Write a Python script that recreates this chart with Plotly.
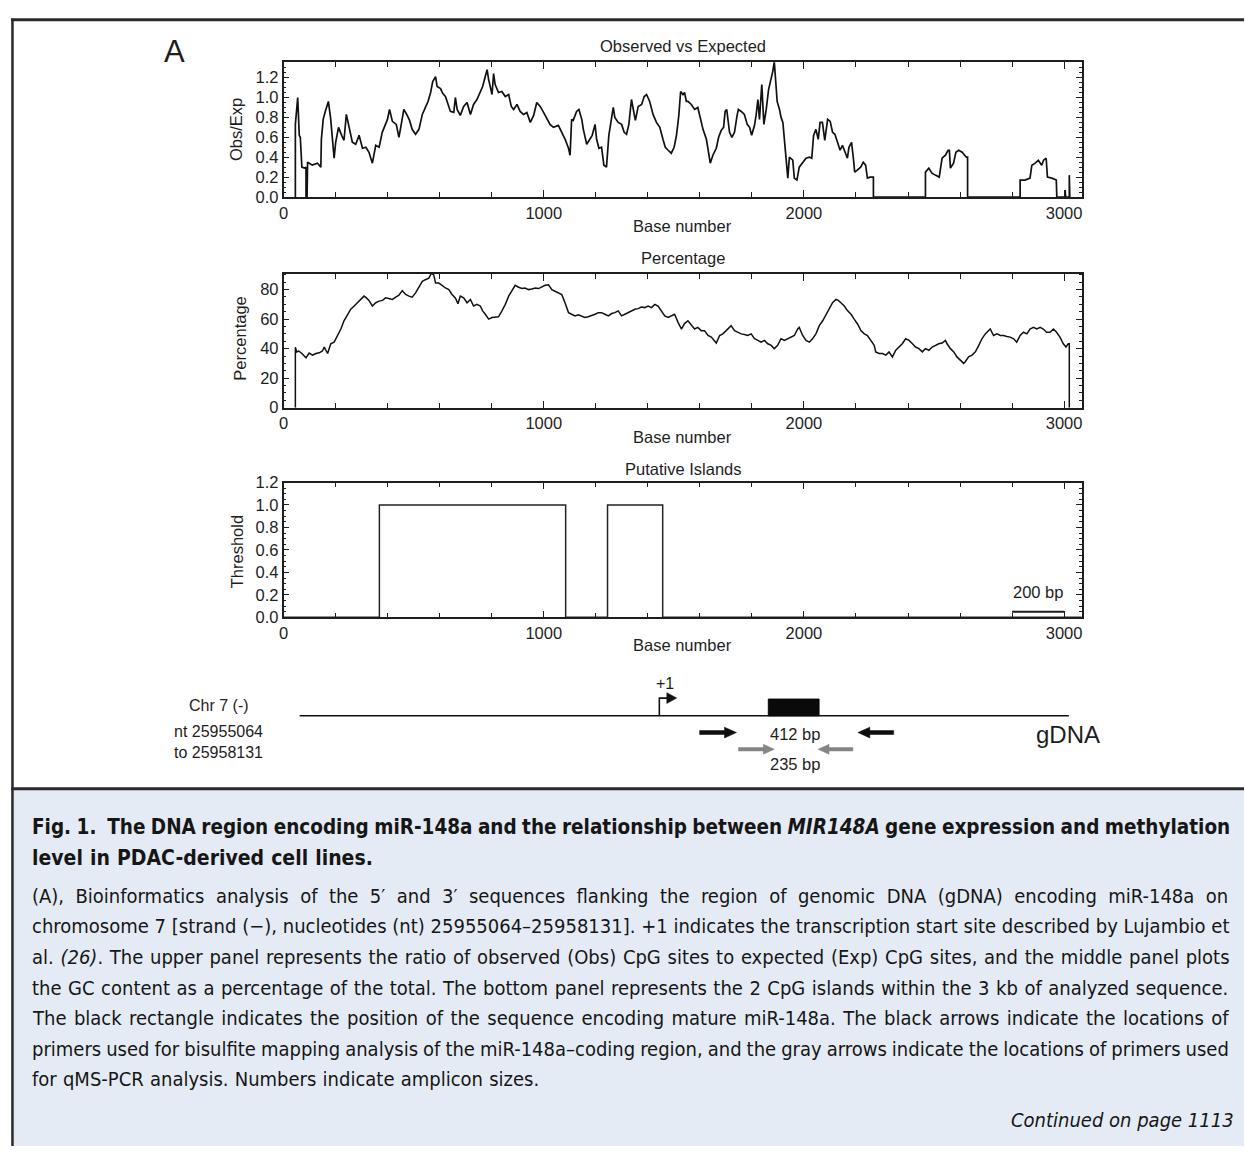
import plotly.graph_objects as go

W, H = 1245, 1155
FONT = "Liberation Sans, Arial, Helvetica, sans-serif"
CAP_FONT = "DejaVu Sans Condensed, Liberation Sans Narrow, Arial Narrow, Liberation Sans, sans-serif"
INK = "#1e1e1e"

# ---------------- data ----------------
# Observed / expected CpG ratio along the analysed sequence (base, ratio)
obs_base = [45, 45, 54, 60, 64, 70, 80, 86, 86, 90, 92, 110, 130, 143, 145, 152, 160, 172, 181, 187,
            194, 200, 211, 223, 232, 241, 252, 264, 277, 290, 303, 316, 328, 341, 354, 367, 379, 399,
            407, 418, 433, 443, 450, 462, 475, 484, 494, 507, 520, 533, 545, 555, 565, 573, 584, 590,
            603, 612, 622, 632, 641, 654, 660, 667, 679, 692, 705, 718, 730, 743, 756, 765, 775, 782,
            788, 795, 801, 807, 813, 826, 839, 852, 865, 875, 884, 897, 909, 922, 935, 948, 961, 973,
            986, 999, 1012, 1024, 1037, 1056, 1069, 1082, 1095, 1101, 1107, 1113, 1126, 1135, 1146,
            1152, 1165, 1178, 1186, 1197, 1203, 1212, 1222, 1231, 1241, 1250, 1260, 1267, 1273, 1286,
            1299, 1309, 1318, 1327, 1337, 1344, 1352, 1363, 1376, 1386, 1395, 1407, 1420, 1433, 1446,
            1458, 1467, 1478, 1490, 1501, 1510, 1519, 1526, 1535, 1541, 1548, 1554, 1567, 1580, 1592,
            1603, 1612, 1625, 1631, 1640, 1650, 1663, 1672, 1682, 1691, 1697, 1703, 1714, 1723, 1733,
            1743, 1748, 1759, 1771, 1782, 1791, 1799, 1810, 1816, 1823, 1829, 1838, 1846, 1855, 1864,
            1871, 1880, 1886, 1890, 1897, 1906, 1912, 1919, 1925, 1931, 1938, 1944, 1957, 1963, 1973,
            1982, 1995, 2008, 2021, 2030, 2037, 2046, 2055, 2062, 2071, 2080, 2091, 2101, 2110, 2119,
            2129, 2139, 2148, 2158, 2167, 2173, 2183, 2190, 2195, 2205, 2218, 2228, 2237, 2244, 2254,
            2267, 2267, 2467, 2467, 2480, 2492, 2505, 2520, 2531, 2544, 2554, 2559, 2563, 2575, 2584,
            2595, 2608, 2624, 2629, 2629, 2831, 2831, 2850, 2869, 2876, 2889, 2901, 2914, 2921, 2931,
            2936, 2953, 2970, 2972, 3004, 3004, 3006, 3020, 3020, 3022]
obs_ratio = [0.0, 0.73, 1.0, 0.62, 0.60, 0.30, 0.29, 0.30, 0.0, 0.0, 0.35, 0.32, 0.34, 0.30, 0.58, 0.78,
             0.86, 0.96, 0.78, 0.62, 0.39, 0.55, 0.70, 0.62, 0.57, 0.83, 0.68, 0.55, 0.53, 0.62, 0.49,
             0.50, 0.45, 0.34, 0.52, 0.50, 0.65, 0.78, 0.88, 0.76, 0.73, 0.60, 0.70, 0.88, 0.82, 0.77,
             0.68, 0.63, 0.68, 0.83, 0.90, 0.96, 1.05, 1.16, 1.21, 1.11, 1.09, 1.04, 1.01, 0.93, 0.86,
             0.85, 1.00, 0.88, 0.82, 0.91, 0.95, 0.83, 0.93, 0.98, 1.05, 1.11, 1.21, 1.28, 1.18, 1.11,
             1.03, 1.24, 1.13, 1.05, 1.06, 1.01, 1.03, 0.91, 0.88, 0.93, 0.86, 0.83, 0.85, 0.75, 0.82,
             0.95, 0.91, 0.85, 0.78, 0.73, 0.70, 0.72, 0.65, 0.58, 0.49, 0.42, 0.78, 0.77, 0.86, 0.88,
             0.78, 0.68, 0.53, 0.58, 0.62, 0.73, 0.58, 0.49, 0.50, 0.32, 0.30, 0.62, 0.80, 0.90, 0.80,
             0.75, 0.73, 0.65, 0.63, 0.73, 0.98, 0.88, 0.77, 0.91, 0.93, 1.01, 1.03, 0.96, 0.83, 0.75,
             0.70, 0.58, 0.50, 0.47, 0.44, 0.50, 0.62, 0.82, 1.06, 1.03, 1.05, 0.96, 0.96, 0.93, 0.88,
             0.90, 0.78, 0.68, 0.58, 0.47, 0.34, 0.42, 0.49, 0.60, 0.67, 0.70, 0.86, 0.88, 0.65, 0.60,
             0.65, 0.82, 0.88, 0.86, 0.83, 0.73, 0.70, 0.62, 0.72, 0.82, 0.98, 0.78, 1.13, 0.73, 0.88,
             1.08, 1.15, 1.26, 1.36, 1.24, 0.96, 0.88, 0.80, 0.75, 0.58, 0.45, 0.19, 0.40, 0.37, 0.19,
             0.17, 0.30, 0.35, 0.39, 0.40, 0.39, 0.62, 0.68, 0.58, 0.75, 0.75, 0.57, 0.78, 0.76, 0.65,
             0.63, 0.55, 0.47, 0.52, 0.45, 0.39, 0.50, 0.55, 0.39, 0.25, 0.27, 0.30, 0.35, 0.32, 0.19,
             0.20, 0.20, 0.0, 0.0, 0.25, 0.29, 0.24, 0.22, 0.20, 0.39, 0.42, 0.47, 0.47, 0.29, 0.34,
             0.45, 0.47, 0.45, 0.40, 0.40, 0.0, 0.0, 0.17, 0.17, 0.19, 0.32, 0.34, 0.37, 0.32, 0.37,
             0.39, 0.20, 0.19, 0.17, 0.0, 0.0, 0.07, 0.0, 0.0, 0.22, 0.0]

# GC content (%) along the analysed sequence (base, percent)
gc_base = [45, 45, 50, 58, 70, 86, 98, 111, 124, 137, 149, 156, 169, 181, 194, 207, 220, 232, 245, 258,
           271, 284, 296, 309, 318, 328, 341, 354, 367, 380, 392, 405, 418, 431, 443, 456, 469, 482,
           494, 507, 520, 533, 545, 558, 568, 577, 584, 596, 609, 622, 635, 647, 660, 670, 679, 692,
           705, 718, 730, 743, 756, 765, 775, 788, 801, 814, 826, 839, 852, 865, 877, 890, 903, 916,
           928, 941, 954, 967, 980, 992, 1005, 1018, 1031, 1043, 1056, 1069, 1079, 1088, 1095, 1107,
           1120, 1133, 1146, 1158, 1171, 1184, 1197, 1209, 1222, 1235, 1248, 1261, 1273, 1286, 1299,
           1312, 1324, 1337, 1350, 1363, 1375, 1388, 1401, 1414, 1427, 1439, 1452, 1465, 1478, 1490,
           1503, 1516, 1529, 1541, 1554, 1567, 1580, 1592, 1605, 1618, 1631, 1644, 1656, 1663, 1676,
           1688, 1701, 1714, 1720, 1733, 1746, 1759, 1771, 1784, 1797, 1810, 1823, 1835, 1848, 1861,
           1874, 1886, 1899, 1912, 1925, 1937, 1950, 1963, 1976, 1982, 1995, 2008, 2021, 2033, 2046,
           2059, 2072, 2085, 2098, 2110, 2123, 2132, 2142, 2155, 2168, 2181, 2193, 2206, 2219, 2232,
           2244, 2257, 2270, 2276, 2289, 2302, 2315, 2327, 2340, 2353, 2366, 2378, 2391, 2404, 2417,
           2429, 2442, 2455, 2467, 2480, 2493, 2506, 2518, 2531, 2544, 2550, 2563, 2576, 2588, 2601,
           2614, 2620, 2633, 2646, 2659, 2672, 2684, 2697, 2710, 2716, 2729, 2742, 2755, 2767, 2780,
           2793, 2806, 2818, 2831, 2844, 2857, 2869, 2882, 2895, 2908, 2920, 2933, 2946, 2959, 2971,
           2984, 2997, 3007, 3016, 3020, 3020]
gc_pct = [0, 41, 37.8, 38.4, 36.7, 33.8, 37, 35.6, 36.7, 37.2, 38.4, 41, 36.7, 43.3, 44.4, 48.9, 53.3,
          58.9, 63.3, 66.7, 68.9, 71.1, 73.3, 75.6, 74.4, 72.7, 68.9, 71.1, 72.2, 72.7, 74.4, 73.8, 73.3,
          74.9, 76.2, 79.3, 76.7, 75.6, 74.9, 77.8, 82.2, 85.6, 86.7, 87.8, 91.1, 90, 84.4, 84.4, 82.9,
          81.1, 80, 76.7, 74.4, 70.4, 75.6, 74.4, 71.1, 73.3, 68.9, 70, 68.9, 65.6, 63.3, 60, 61.1, 61.6,
          61.6, 65.6, 70, 75.6, 79.3, 82.9, 81.6, 80.7, 81.1, 80, 80.4, 81.1, 80.7, 81.6, 82.9, 83.3, 80,
          78.9, 77.8, 76.7, 72.2, 67.8, 64.4, 63.3, 62.2, 62.9, 62.2, 61.1, 61.6, 62.2, 63.3, 64.4, 64.4,
          63.3, 62.2, 63.8, 64.4, 65.6, 62.2, 63.3, 64.4, 65.6, 66.7, 67.1, 68.2, 67.8, 68.9, 67.8, 70,
          68.9, 65.6, 62.2, 61.1, 62.2, 63.3, 57.8, 53.3, 57, 58.9, 56, 53.3, 54.4, 52.2, 52.2, 48.9,
          47.8, 45.6, 43.8, 48.9, 50, 52.2, 54.4, 55.6, 52.2, 51.1, 50, 49.6, 48.9, 50, 46.7, 45.6, 44.4,
          45.6, 43.3, 42.2, 40, 42.2, 46.7, 45.6, 46.7, 48.2, 48.9, 53.3, 54.4, 48.9, 45.6, 44.4, 46.7,
          50, 55.6, 58.9, 63.3, 67.8, 71.1, 73.3, 72.7, 71.1, 68.9, 65.6, 63.3, 60, 56.7, 52.2, 50, 48.9,
          45.6, 42.2, 37.8, 36.7, 36.7, 35.6, 37.8, 34.4, 38.9, 41.1, 43.3, 46.7, 45.6, 43.3, 41.1, 40,
          37.8, 40, 38.9, 41.1, 42.2, 43.3, 43.8, 45.6, 43.3, 40, 37.8, 34.4, 32.2, 30, 31.1, 34.4, 35.6,
          37.8, 42.2, 46.7, 50, 52.2, 53.3, 48.9, 50, 48.9, 48.9, 48.2, 47.8, 46.7, 44.4, 48.9, 51.1, 50,
          53.3, 54.4, 53.3, 54.4, 53.3, 51.1, 51.1, 53.3, 51.1, 47.8, 43.3, 41.1, 43.3, 43.3, 0]

# Putative CpG islands (start, end base) and the threshold level they reach
island_start = [368, 1245]
island_end = [1084, 1457]
island_level = 1.0
seq_length = 3068

x_ticks = [0, 1000, 2000, 3000]

# ---------------- helpers ----------------
def px(x):
    return x / W


def py(y):
    return 1 - y / H


def path(points, close=True):
    s = "M " + " L ".join(f"{px(x):.5f},{py(y):.5f}" for x, y in points)
    return s + (" Z" if close else "")


def arrow_pts(tail, tip, y, shaft, head_len, head_h):
    d = 1 if tip > tail else -1
    neck = tip - d * head_len
    return [(tail, y - shaft / 2), (neck, y - shaft / 2), (neck, y - head_h / 2), (tip, y),
            (neck, y + head_h / 2), (neck, y + shaft / 2), (tail, y + shaft / 2)]


# islands as a step outline
isl_x, isl_y = [0], [0]
for s, e in zip(island_start, island_end):
    isl_x += [s, s, e, e]
    isl_y += [0, island_level, island_level, 0]
isl_x.append(seq_length)
isl_y.append(0)

fig = go.Figure()
fig.add_trace(go.Scatter(x=obs_base, y=obs_ratio, mode="lines", line=dict(color="#111", width=1.7),
                         xaxis="x", yaxis="y", hoverinfo="skip"))
fig.add_trace(go.Scatter(x=gc_base, y=gc_pct, mode="lines", line=dict(color="#111", width=1.5),
                         xaxis="x2", yaxis="y2", hoverinfo="skip"))
fig.add_trace(go.Scatter(x=isl_x, y=isl_y, mode="lines", line=dict(color="#222", width=1.5),
                         xaxis="x3", yaxis="y3", hoverinfo="skip"))

X0, X1 = px(280), px(1082)
panels = [  # (top px, bottom px, y range, major step, minor step, tick format)
    (54, 191, [0, 1.355], 0.2, 0.05, ".1f"),
    (269, 405, [0, 90.7], 20, 5, "d"),
    (481, 618, [0, 1.2], 0.2, 0.05, ".1f"),
]

layout = dict(width=W, height=H, margin=dict(l=0, r=0, t=0, b=0), showlegend=False,
              paper_bgcolor="white", plot_bgcolor="white", font=dict(family=FONT, color=INK))
for i, (top, bot, yr, step, mstep, fmt) in enumerate(panels, start=1):
    sfx = "" if i == 1 else str(i)
    layout["xaxis" + sfx] = dict(
        domain=[X0, X1], range=[0, seq_length], anchor="y" + sfx, tickmode="array", tickvals=x_ticks,
        ticks="inside", ticklen=7, tickwidth=1.3, tickcolor=INK, showline=True, linecolor=INK,
        linewidth=1.6, mirror="ticks", showgrid=False, zeroline=False,
        tickfont=dict(size=16.5, color=INK),
        minor=dict(tick0=0, dtick=200, ticks="inside", ticklen=5, tickwidth=1.1, tickcolor=INK, showgrid=False))
    layout["yaxis" + sfx] = dict(
        domain=[py(bot), py(top)], range=yr, anchor="x" + sfx, tick0=0, dtick=step, tickformat=fmt,
        ticks="inside", ticklen=6, tickwidth=1.3, tickcolor=INK, showline=True, linecolor=INK,
        linewidth=1.6, mirror="ticks", showgrid=False, zeroline=False,
        tickfont=dict(size=16.5, color=INK),
        minor=dict(tick0=0, dtick=mstep, ticks="inside", ticklen=3, tickwidth=1, tickcolor=INK, showgrid=False))

annotations = []


def label(text, x, y, size=16.5, angle=0, anchor="center", family=FONT, color=INK):
    annotations.append(dict(text=text, x=px(x), y=py(y), xref="paper", yref="paper", showarrow=False,
                            xanchor=anchor, yanchor="middle", textangle=angle,
                            font=dict(size=size, family=family, color=color)))


label("A", 170, 43, size=31)
for title, ty, ytitle, yx, yy, by in [("Observed vs Expected", 38, "Obs/Exp", 232, 122, 220),
                                      ("Percentage", 253, "Percentage", 236, 335, 435),
                                      ("Putative Islands", 467, "Threshold", 234, 551, 646)]:
    label(title, 681, ty)
    label(ytitle, yx, yy, angle=-90)
    label("Base number", 681, by)

# 200 bp scale bar in the islands panel
annotations.append(dict(text="200 bp", x=2900, y=0.23, xref="x3", yref="y3", showarrow=False,
                        font=dict(size=16.5, family=FONT, color=INK)))

# gene diagram labels
label("Chr 7 (-)", 215, 708, size=16)
label("nt 25955064", 215, 734, size=16)
label("to 25958131", 215, 755, size=16)
label("+1", 663, 685, size=16)
label("412 bp", 794, 736, size=16.5)
label("235 bp", 794, 767, size=16.5)
label("gDNA", 1068, 737, size=24)


def spaced(text, ws):
    return f'<span style="word-spacing:{ws}px">{text}</span>'


# caption: (text, centre y, font size, extra word spacing)
cap = [
    ("<b>Fig. 1.\u00a0 The DNA region encoding miR-148a and the relationship between <i>MIR148A</i> gene expression and methylation</b>", 831, 20.5, -1.0),
    ("<b>level in PDAC-derived cell lines.</b>", 862, 21, 0.5),
    ("(A), Bioinformatics analysis of the 5\u2032 and 3\u2032 sequences flanking the region of genomic DNA (gDNA) encoding miR-148a on", 901, 20, 5.7),
    ("chromosome 7 [strand (\u2212), nucleotides (nt) 25955064\u201325958131]. +1 indicates the transcription start site described by Lujambio et", 932, 20, 0.05),
    ("al. <i>(26)</i>. The upper panel represents the ratio of observed (Obs) CpG sites to expected (Exp) CpG sites, and the middle panel plots", 963, 20, 1.0),
    ("the GC content as a percentage of the total. The bottom panel represents the 2 CpG islands within the 3 kb of analyzed sequence.", 994, 20, 0.8),
    ("The black rectangle indicates the position of the sequence encoding mature miR-148a. The black arrows indicate the locations of", 1025, 20, 1.7),
    ("primers used for bisulfite mapping analysis of the miR-148a\u2013coding region, and the gray arrows indicate the locations of primers used", 1056, 20, -0.7),
    ("for qMS-PCR analysis. Numbers indicate amplicon sizes.", 1087, 20, 0.5),
]
for text, y, size, ws in cap:
    label(spaced(text, ws), 25, y, size=size, anchor="left", family=CAP_FONT, color="#161616")
label("<i>Continued on page 1113</i>", 1237, 1129, size=20, anchor="right", family=CAP_FONT, color="#161616")

shapes = []
# caption panel and frame
shapes.append(dict(type="rect", xref="paper", yref="paper", x0=px(7), x1=1, y0=0, y1=py(792),
                   fillcolor="#e4ebf5", line=dict(width=0), layer="below"))
shapes.append(dict(type="line", xref="paper", yref="paper", x0=px(6), x1=1, y0=py(11), y1=py(11),
                   line=dict(color="#2a2a2a", width=3)))
shapes.append(dict(type="line", xref="paper", yref="paper", x0=px(6), x1=1, y0=py(792), y1=py(792),
                   line=dict(color="#2a2a2a", width=3)))
shapes.append(dict(type="line", xref="paper", yref="paper", x0=px(7.5), x1=px(7.5), y0=0, y1=py(10),
                   line=dict(color="#2a2a2a", width=2.5)))

# scale bar
shapes.append(dict(type="line", xref="x3", yref="y3", x0=2800, x1=3000, y0=0.05, y1=0.05,
                   line=dict(color=INK, width=2)))

# gDNA line, TSS and mature miRNA block
shapes.append(dict(type="line", xref="paper", yref="paper", x0=px(296), x1=px(1069), y0=py(718), y1=py(718),
                   line=dict(color="#111", width=1.6)))
shapes.append(dict(type="path", xref="paper", yref="paper", path=path([(657.5, 718), (657.5, 700), (666, 700)], close=False),
                   line=dict(color="#111", width=1.6)))
shapes.append(dict(type="path", xref="paper", yref="paper", path=path([(665, 694.5), (675, 700), (665, 705.5)]),
                   fillcolor="#111", line=dict(color="#111", width=0.5)))
shapes.append(dict(type="rect", xref="paper", yref="paper", x0=px(767), x1=px(818), y0=py(718), y1=py(701),
                   fillcolor="#0a0a0a", line=dict(color="#0a0a0a", width=1)))

# primer arrows
for tail, tip, y, col, shaft, hl, hh in [(698, 735, 735, "#0d0d0d", 4, 12, 11),
                                         (893, 857, 735, "#0d0d0d", 4, 12, 11),
                                         (737, 773, 752, "#858585", 3.5, 11, 10),
                                         (852, 817, 752, "#858585", 3.5, 11, 10)]:
    shapes.append(dict(type="path", xref="paper", yref="paper", path=path(arrow_pts(tail, tip, y, shaft, hl, hh)),
                       fillcolor=col, line=dict(color=col, width=0.5)))

layout["annotations"] = annotations
layout["shapes"] = shapes
fig.update_layout(**layout)
fig.write_html("out.html")
